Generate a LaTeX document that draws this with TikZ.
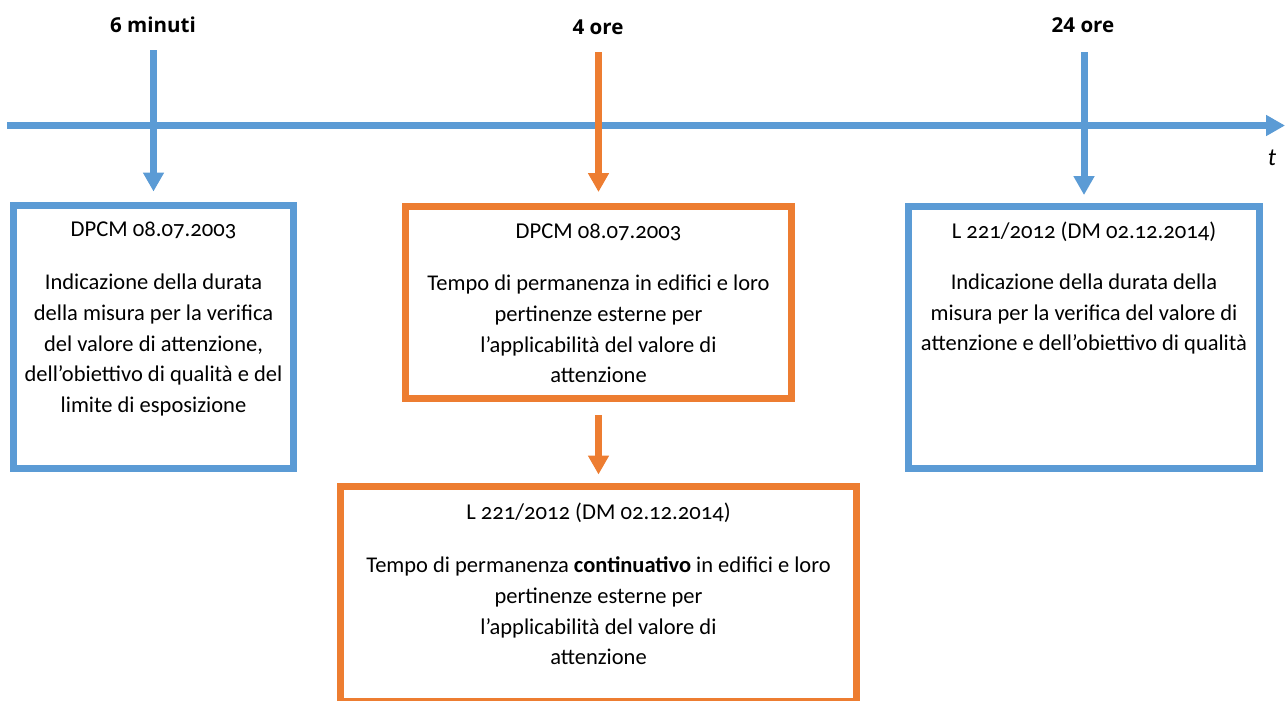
\documentclass[tikz,border=0pt]{standalone}
\usepackage{fontspec}
\setmainfont{Carlito}[Numbers=OldStyle]
\newfontfamily\labelfont{Open Sans}
\usetikzlibrary{arrows.meta}
\definecolor{TimeBlue}{HTML}{5B9BD5}
\definecolor{TimeOrange}{HTML}{ED7D31}

\begin{document}
\begin{tikzpicture}[x=0.02cm,y=-0.02cm,>={Triangle[width=0.4cm,length=0.38cm]},
	axis/.style={line width=0.14cm,#1},
	frame/.style={draw=#1,line width=0.14cm,inner sep=0pt},
	timelabel/.style={font=\labelfont\bfseries\fontsize{11.7}{14}\selectfont},
	title/.style={font=\fontsize{12.9}{17.4}\selectfont},
	body/.style={align=center,font=\fontsize{12.8}{17.4}\selectfont}]
	\useasboundingbox (0,0) rectangle (1287,700);

	\coordinate (ax0) at (7,125.5);
	\coordinate (ax1) at (1285,125.5);
	\draw[axis=TimeBlue,->] (ax0) -- (ax1);
	\node[font=\itshape\fontsize{14}{16}\selectfont] (tlab) at (1272,158) {t};

	\node[frame=TimeBlue,minimum width=5.62cm,minimum height=5.28cm] (box1) at (153.5,337) {};
	\node[frame=TimeOrange,minimum width=7.72cm,minimum height=3.84cm] (box2) at (598.5,302.5) {};
	\node[frame=TimeOrange,minimum width=10.32cm,minimum height=4.3cm] (box3) at (598.5,594) {};
	\node[frame=TimeBlue,minimum width=7.04cm,minimum height=5.26cm] (box4) at (1084,337.5) {};

	\node[timelabel] (min6) at (153,25) {6 minuti};
	\node[timelabel] (ore4) at (598,27) {4 ore};
	\node[timelabel] (ore24) at (1083,25) {24 ore};

	\coordinate (top1) at (153.5,50);
	\coordinate (top2) at (598.5,52);
	\coordinate (top4) at (1084,52);
	\draw[axis=TimeBlue,->,shorten >=0.2cm] (top1) -- (box1.north);
	\draw[axis=TimeOrange,->,shorten >=0.22cm] (top2) -- (box2.north);
	\draw[axis=TimeBlue,->,shorten >=0.15cm] (top4) -- (box4.north);
	\draw[axis=TimeOrange,->,shorten <=0.27cm,shorten >=0.17cm] (box2.south) -- (box3.north);

	\node[title] (head1) at (153.5,230) {DPCM 08.07.2003};
	\node[body] (text1) at (153.5,345) {Indicazione della durata\\della misura per la verifica\\del valore di attenzione,\\dell’obiettivo di qualità e del\\limite di esposizione};

	\node[title] (head2) at (598.5,232) {DPCM 08.07.2003};
	\node[body] (text2) at (598.5,329) {Tempo di permanenza in edifici e loro\\pertinenze esterne per\\l’applicabilità del valore di\\attenzione};

	\node[title] (head3) at (598.5,513) {L 221/2012 (DM 02.12.2014)};
	\node[body] (text3) at (598.5,611) {Tempo di permanenza \textbf{continuativo} in edifici e loro\\pertinenze esterne per\\l’applicabilità del valore di\\attenzione};

	\node[title] (head4) at (1084,232) {L 221/2012 (DM 02.12.2014)};
	\node[body] (text4) at (1084,314) {Indicazione della durata della\\misura per la verifica del valore di\\attenzione e dell’obiettivo di qualità};
\end{tikzpicture}
\end{document}
